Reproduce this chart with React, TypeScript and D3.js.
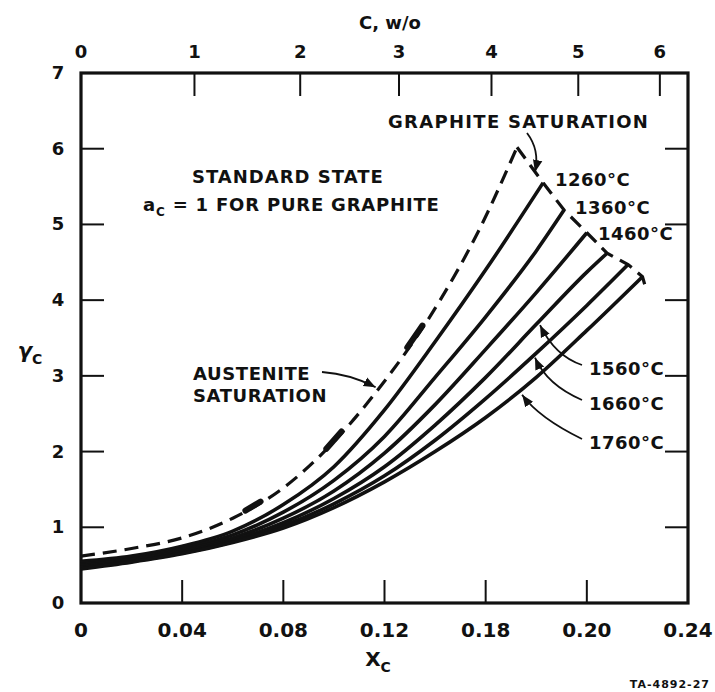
import React from 'react';
import * as d3 from 'd3';

const W = 715;
const H = 692;

// bottom axis: atom fraction of carbon
const xTicks = [0, 0.04, 0.08, 0.12, 0.16, 0.2, 0.24];
const xTickLabels = ['0', '0.04', '0.08', '0.12', '0.18', '0.20', '0.24'];
const yTicks = [0, 1, 2, 3, 4, 5, 6, 7];
// top axis: weight percent carbon
const wTicks = [0, 1, 2, 3, 4, 5, 6];

const temps = ['1260°C', '1360°C', '1460°C', '1560°C', '1660°C', '1760°C'];

const austenite = [
  [0, 0.62], [0.02, 0.72], [0.04, 0.86], [0.06, 1.12], [0.08, 1.52], [0.095, 1.96],
  [0.117, 2.8], [0.142, 4.0], [0.157, 4.9], [0.1724, 6.02],
];
const c1260 = [
  [0, 0.55], [0.02, 0.62], [0.04, 0.75], [0.06, 0.95], [0.08, 1.3], [0.1, 1.8],
  [0.12, 2.55], [0.14, 3.45], [0.16, 4.4], [0.1827, 5.55],
];
const c1360 = [
  [0, 0.53], [0.02, 0.6], [0.04, 0.72], [0.06, 0.9], [0.08, 1.2], [0.1, 1.62],
  [0.12, 2.2], [0.14, 2.98], [0.16, 3.78], [0.18, 4.65], [0.191, 5.19],
];
const c1460 = [
  [0, 0.51], [0.02, 0.58], [0.04, 0.7], [0.06, 0.86], [0.08, 1.12], [0.1, 1.48],
  [0.12, 1.98], [0.14, 2.62], [0.16, 3.35], [0.18, 4.1], [0.2, 4.89],
];
const c1560 = [
  [0, 0.49], [0.02, 0.57], [0.04, 0.68], [0.06, 0.83], [0.08, 1.06], [0.1, 1.38],
  [0.12, 1.8], [0.14, 2.35], [0.16, 2.98], [0.18, 3.68], [0.2, 4.37], [0.208, 4.62],
];
const c1660 = [
  [0, 0.47], [0.02, 0.55], [0.04, 0.66], [0.06, 0.81], [0.08, 1.02], [0.1, 1.31],
  [0.12, 1.68], [0.14, 2.15], [0.16, 2.7], [0.18, 3.3], [0.2, 3.93], [0.2163, 4.47],
];
const c1760 = [
  [0, 0.45], [0.02, 0.54], [0.04, 0.65], [0.06, 0.8], [0.08, 0.99], [0.1, 1.26],
  [0.12, 1.6], [0.14, 2.0], [0.16, 2.45], [0.18, 2.98], [0.2, 3.6], [0.222, 4.31],
];
const isotherms = [c1260, c1360, c1460, c1560, c1660, c1760];

// graphite saturation: peak of austenite line through the isotherm end points
const graphite = [
  [0.1724, 6.02], [0.1827, 5.55], [0.191, 5.19], [0.2, 4.89], [0.208, 4.62],
  [0.2163, 4.47], [0.222, 4.31], [0.2232, 4.17],
];

// heavy dashes drawn on the austenite line
const heavyDashes = [0.068, 0.1, 0.132];

// where the temperature arrows touch their curves
const arrowTips = [[0.1815, 3.67], [0.1795, 3.24], [0.1744, 2.75]];

const font = '"DejaVu Sans", sans-serif';

// w/o carbon -> atom fraction (Fe-C)
function wToX(w: number) {
  const c = w / 12.011;
  const fe = (100 - w) / 55.85;
  return c / (c + fe);
}

function interp(pts: number[][], xv: number) {
  for (let i = 1; i < pts.length; i++) {
    if (xv <= pts[i][0]) {
      const t = (xv - pts[i - 1][0]) / (pts[i][0] - pts[i - 1][0]);
      return pts[i - 1][1] + t * (pts[i][1] - pts[i - 1][1]);
    }
  }
  return pts[pts.length - 1][1];
}

export default function App() {
  const x = d3.scaleLinear().domain([0, 0.24]).range([81, 688]);
  const y = d3.scaleLinear().domain([0, 7]).range([603, 73]);
  const line = d3.line<number[]>().x(d => x(d[0])).y(d => y(d[1])).curve(d3.curveMonotoneX);
  const straight = d3.line<number[]>().x(d => x(d[0])).y(d => y(d[1]));

  const tick = 23;
  const labelStyle = { fontFamily: font, fontWeight: 'bold' as const, fill: '#111' };

  return (
    <svg width={W} height={H} style={{ position: 'absolute', left: 0, top: 0, background: '#fff' }}>
      <defs>
        <marker id="ah" viewBox="0 0 10 10" refX="10" refY="5" markerWidth="12" markerHeight="12"
          markerUnits="userSpaceOnUse" orient="auto">
          <path d="M0,1 L10,5 L0,9 z" fill="#111" />
        </marker>
      </defs>

      {/* frame */}
      <rect x={x(0)} y={y(7)} width={x(0.24) - x(0)} height={y(0) - y(7)}
        fill="none" stroke="#111" strokeWidth={3.2} />

      {/* bottom ticks */}
      {xTicks.slice(1, -1).map(t => (
        <line key={'bx' + t} x1={x(t)} x2={x(t)} y1={y(0)} y2={y(0) - tick} stroke="#111" strokeWidth={2} />
      ))}
      {xTicks.map((t, i) => (
        <text key={'bl' + t} x={x(t)} y={637} textAnchor="middle" fontSize={20} {...labelStyle}>
          {xTickLabels[i]}
        </text>
      ))}

      {/* top ticks, w/o */}
      {wTicks.slice(1).map(w => (
        <line key={'tx' + w} x1={x(wToX(w))} x2={x(wToX(w))} y1={y(7)} y2={y(7) + tick} stroke="#111" strokeWidth={2} />
      ))}
      {wTicks.map(w => (
        <text key={'tl' + w} x={x(wToX(w))} y={58} textAnchor="middle" fontSize={18} {...labelStyle}>
          {w}
        </text>
      ))}

      {/* left and right ticks */}
      {yTicks.slice(1, -1).map(t => (
        <g key={'yt' + t}>
          <line x1={x(0)} x2={x(0) + tick} y1={y(t)} y2={y(t)} stroke="#111" strokeWidth={2} />
          <line x1={x(0.24)} x2={x(0.24) - tick} y1={y(t)} y2={y(t)} stroke="#111" strokeWidth={2} />
        </g>
      ))}
      {yTicks.map(t => (
        <text key={'yl' + t} x={58} y={y(t) + 6} textAnchor="middle" fontSize={18} {...labelStyle}>
          {t}
        </text>
      ))}

      {/* axis titles */}
      <text x={390} y={29} textAnchor="middle" fontSize={18} {...labelStyle}>C, w/o</text>
      <text x={378} y={666} textAnchor="middle" fontSize={20} {...labelStyle}>
        X<tspan fontSize={14} dy={6}>C</tspan>
      </text>
      <text x={30} y={358} textAnchor="middle" fontSize={21} fontStyle="italic" {...labelStyle}>
        γ<tspan fontSize={14} dy={6} fontStyle="normal">C</tspan>
      </text>
      <text x={710} y={688} textAnchor="end" fontSize={11} letterSpacing={1} {...labelStyle}>TA-4892-27</text>

      {/* curves */}
      <path d={line(austenite) || ''} fill="none" stroke="#111" strokeWidth={3.2} strokeDasharray="14 8" />
      <path d={straight(graphite) || ''} fill="none" stroke="#111" strokeWidth={3.2} strokeDasharray="14 8" />
      {isotherms.map((c, i) => (
        <path key={temps[i]} d={line(c) || ''} fill="none" stroke="#111" strokeWidth={3.6} />
      ))}
      {heavyDashes.map(hx => {
        const x0 = x(hx - 0.003), y0 = y(interp(austenite, hx - 0.003));
        const x1 = x(hx + 0.003), y1 = y(interp(austenite, hx + 0.003));
        return <line key={'hd' + hx} x1={x0} y1={y0} x2={x1} y2={y1} stroke="#111" strokeWidth={6} strokeLinecap="round" />;
      })}

      {/* annotations */}
      <text x={192} y={183} fontSize={18} letterSpacing={1} {...labelStyle}>STANDARD STATE</text>
      <text x={143} y={211} fontSize={18} letterSpacing={0.8} {...labelStyle}>
        a<tspan fontSize={12} dy={5}>C</tspan><tspan dy={-5}> =  1 FOR  PURE GRAPHITE</tspan>
      </text>

      <text x={388} y={128} fontSize={18} letterSpacing={1.3} {...labelStyle}>GRAPHITE SATURATION</text>
      <path d="M527,133 Q540,150 535,172" fill="none" stroke="#111" strokeWidth={1.8} markerEnd="url(#ah)" />

      <text x={193} y={380} fontSize={18} letterSpacing={0.6} {...labelStyle}>AUSTENITE</text>
      <text x={193} y={402} fontSize={18} letterSpacing={0.6} {...labelStyle}>SATURATION</text>
      <path d={`M322,372 Q350,374 ${x(0.1165)},${y(2.85)}`} fill="none" stroke="#111" strokeWidth={1.8} markerEnd="url(#ah)" />

      <text x={555} y={186} fontSize={18} letterSpacing={0.5} {...labelStyle}>{temps[0]}</text>
      <text x={575} y={214} fontSize={18} letterSpacing={0.5} {...labelStyle}>{temps[1]}</text>
      <text x={598} y={240} fontSize={18} letterSpacing={0.5} {...labelStyle}>{temps[2]}</text>
      {[368, 403, 442].map((ty, i) => (
        <g key={'lab' + i}>
          <text x={589} y={ty + 7} fontSize={18} letterSpacing={0.5} {...labelStyle}>{temps[3 + i]}</text>
          <path d={`M582,${ty - 3} Q${555 - i * 8},${ty - 12 - i * 6} ${x(arrowTips[i][0])},${y(arrowTips[i][1])}`}
            fill="none" stroke="#111" strokeWidth={1.8} markerEnd="url(#ah)" />
        </g>
      ))}
    </svg>
  );
}
